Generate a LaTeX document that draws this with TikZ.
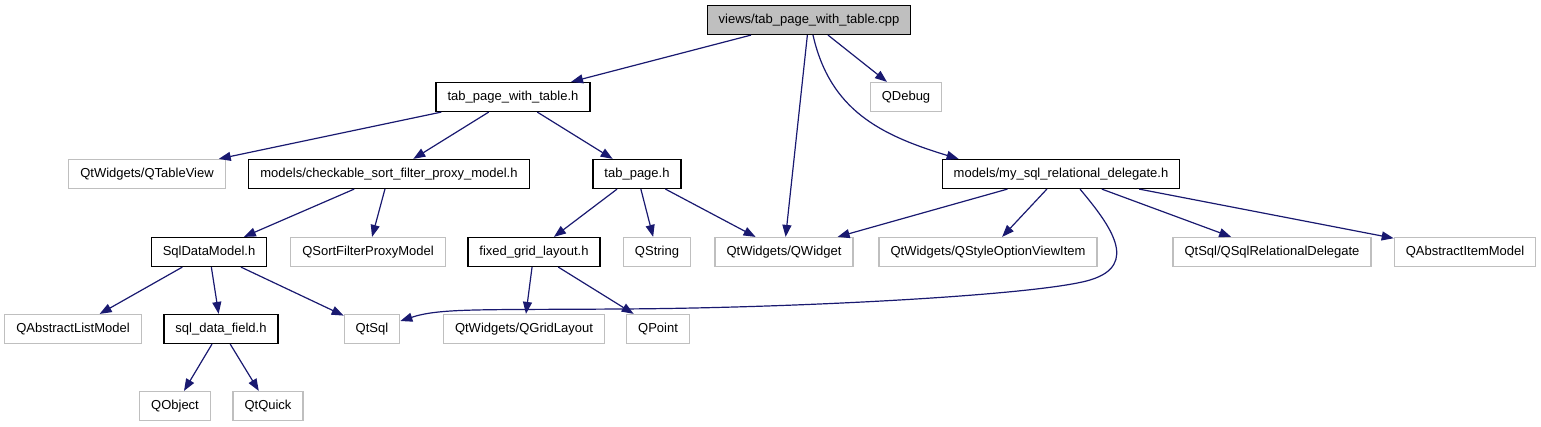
\documentclass[tikz,border=0pt]{standalone}
\usepackage{fontspec}
\setmainfont{Liberation Sans}
\usepackage{tikz}
\usetikzlibrary{arrows.meta}
\usetikzlibrary{positioning}
\definecolor{edgeblue}{RGB}{25,25,112}
\definecolor{boxgrey}{RGB}{191,191,191}
\tikzset{filebox/.style={rectangle, draw, line width=1.2pt, minimum height=29pt, inner xsep=11.5pt,
                         font=\fontsize{13}{15}\selectfont}}

\begin{document}
\begin{tikzpicture}[
            x=1pt, y=-1pt,
            >={Triangle[length=12pt,width=9pt]},
            header/.style={filebox, draw=black},
            extern/.style={filebox, draw=boxgrey},
            edge/.style={->, line width=1.2pt, draw=edgeblue},
        ]

        \useasboundingbox (0,0) rectangle (1541,427);

        % Root file
        \node[header, fill=boxgrey] (root) at (809,20) {views/tab\_page\_with\_table.cpp};

        % Second row
        \node[header] (tpwt) at (513,97) {tab\_page\_with\_table.h};
        \node[extern] (qdebug) at (906,97) {QDebug};

        % Third row
        \node[extern] (qtableview) at (147,174) {QtWidgets/QTableView};
        \node[header] (checkable) at (389,174) {models/checkable\_sort\_filter\_proxy\_model.h};
        \node[header] (tabpage) at (637,174) {tab\_page.h};
        \node[header] (delegate) at (1061,174) {models/my\_sql\_relational\_delegate.h};

        % Fourth row
        \node[header] (sqldatamodel) at (209,252) {SqlDataModel.h};
        \node[extern] (qsortfilter) at (368,252) {QSortFilterProxyModel};
        \node[header] (gridlayout) at (534,252) {fixed\_grid\_layout.h};
        \node[extern] (qstring) at (657,252) {QString};
        \node[extern] (qwidget) at (784,252) {QtWidgets/QWidget};
        \node[extern] (qstyleoption) at (988,252) {QtWidgets/QStyleOptionViewItem};
        \node[extern] (qsqldelegate) at (1272,252) {QtSql/QSqlRelationalDelegate};
        \node[extern] (qitemmodel) at (1465,252) {QAbstractItemModel};

        % Fifth row
        \node[extern] (qlistmodel) at (73,329) {QAbstractListModel};
        \node[header] (datafield) at (221,329) {sql\_data\_field.h};
        \node[extern] (qtsql) at (372,329) {QtSql};
        \node[extern] (qgridlayout) at (524,329) {QtWidgets/QGridLayout};
        \node[extern] (qpoint) at (658,329) {QPoint};

        % Last row
        \node[extern] (qobject) at (175,406) {QObject};
        \node[extern] (qtquick) at (268,406) {QtQuick};

        % Includes of the root file
        \draw[edge] (root) -- (tpwt);
        \draw[edge] (root) -- (qwidget);
        \draw[edge] (root) -- (qdebug);
        \draw[edge] ([xshift=4pt]root.south) .. controls (830,110) and (880,135) .. ([xshift=17pt]delegate.north west);

        % Includes of tab_page_with_table.h
        \draw[edge] (tpwt) -- (qtableview);
        \draw[edge] (tpwt) -- (checkable);
        \draw[edge] (tpwt) -- (tabpage);

        \draw[edge] (checkable) -- (sqldatamodel);
        \draw[edge] (checkable) -- (qsortfilter);

        \draw[edge] (tabpage) -- (gridlayout);
        \draw[edge] (tabpage) -- (qstring);
        \draw[edge] (tabpage) -- (qwidget);

        % Includes of the delegate
        \draw[edge] (delegate) -- (qwidget);
        \draw[edge] (delegate) -- (qstyleoption);
        \draw[edge] (delegate) -- (qsqldelegate);
        \draw[edge] (delegate) -- (qitemmodel);
        \draw[edge] ([xshift=19pt]delegate.south) .. controls (1110,225) and (1140,265) .. (1090,280)
                    .. controls (1040,295) and (800,308) .. (620,309)
                    .. controls (480,310) and (440,308) .. ([yshift=8pt]qtsql.east);

        \draw[edge] (sqldatamodel) -- (qlistmodel);
        \draw[edge] (sqldatamodel) -- (datafield);
        \draw[edge] (sqldatamodel) -- (qtsql);

        \draw[edge] (gridlayout) -- (qgridlayout);
        \draw[edge] (gridlayout) -- (qpoint);

        \draw[edge] (datafield) -- (qobject);
        \draw[edge] (datafield) -- (qtquick);

        \end{tikzpicture}
\end{document}
